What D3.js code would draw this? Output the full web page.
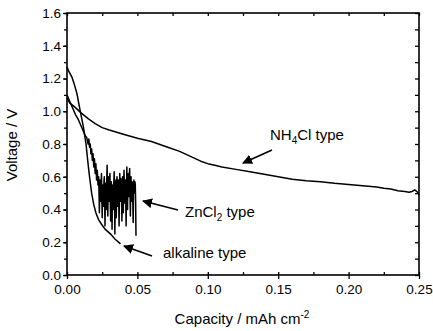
<!DOCTYPE html>
<html><head><meta charset="utf-8">
<script src="https://cdn.jsdelivr.net/npm/d3@7"></script>
<style>body{margin:0;background:#fff}svg{display:block}text{font-family:"Liberation Sans",Arial,sans-serif;fill:#000}</style>
</head><body><svg id="c" width="433" height="331"></svg>
<script>
const xTicks = [0, 0.05, 0.10, 0.15, 0.20, 0.25];
const yTicks = [0, 0.2, 0.4, 0.6, 0.8, 1.0, 1.2, 1.4, 1.6];
const nh4clCap = [0,0.002,0.005,0.010,0.015,0.020,0.025,0.030,0.040,0.050,0.060,0.070,0.080,0.085,0.090,0.095,0.100,0.105,0.110,0.120,0.130,0.140,0.150,0.160,0.170,0.180,0.190,0.200,0.210,0.220,0.225,0.230,0.235,0.240,0.243,0.245,0.247,0.249,0.250];
const nh4clV   = [1.08,1.05,1.03,0.99,0.955,0.925,0.90,0.885,0.86,0.835,0.815,0.785,0.755,0.735,0.715,0.695,0.68,0.67,0.66,0.645,0.63,0.615,0.60,0.585,0.575,0.57,0.56,0.553,0.545,0.538,0.53,0.525,0.515,0.51,0.505,0.51,0.52,0.505,0.49];
const alkCap = [0,0.0015,0.0034,0.005,0.007,0.0092,0.0116,0.0135,0.0147,0.016,0.0175,0.019,0.0205,0.0223,0.0245,0.027,0.029,0.031,0.034,0.038];
const alkV   = [1.27,1.24,1.21,1.17,1.11,1.01,0.906,0.80,0.70,0.60,0.50,0.43,0.38,0.34,0.31,0.28,0.265,0.25,0.22,0.19];
const zncCap = [0,0.002,0.004,0.006,0.008,0.010,0.012,0.013,0.014,0.015,0.0155,0.016,0.0165,0.017,0.0175,0.018,0.0185,0.019,0.0195,0.020,0.0205,0.021,0.0215,0.022,
  0.02250,0.02275,0.02300,0.02325,0.02350,0.02375,0.02400,0.02425,0.02450,0.02475,0.02500,0.02525,0.02550,0.02575,0.02600,0.02625,0.02650,0.02675,0.02700,0.02725,
  0.02750,0.02775,0.02800,0.02825,0.02850,0.02875,0.02900,0.02925,0.02950,0.02975,0.03000,0.03025,0.03050,0.03075,0.03100,0.03125,0.03150,0.03175,0.03200,0.03225,
  0.03250,0.03275,0.03300,0.03325,0.03350,0.03375,0.03400,0.03425,0.03450,0.03475,0.03500,0.03525,0.03550,0.03575,0.03600,0.03625,0.03650,0.03675,0.03700,0.03725,
  0.03750,0.03775,0.03800,0.03825,0.03850,0.03875,0.03900,0.03925,0.03950,0.03975,0.04000,0.04025,0.04050,0.04075,0.04100,0.04125,0.04150,0.04175,0.04200,0.04225,
  0.04250,0.04275,0.04300,0.04325,0.04350,0.04375,0.04400,0.04425,0.04450,0.04475,0.04500,0.04525,0.04550,0.04575,0.04600,0.04625,0.04650,0.04675,0.04700,0.04725,
  0.04750,0.04775,0.04800,0.04825,0.04850,0.04875,0.04900];
const zncV   = [1.10,1.06,1.02,0.98,0.95,0.91,0.87,0.85,0.84,0.80,0.83,0.78,0.80,0.74,0.77,0.70,0.74,0.66,0.71,0.62,0.68,0.58,0.64,0.55,
  0.60,0.50,0.38,0.52,0.58,0.48,0.45,0.56,0.62,0.47,0.35,0.50,0.55,0.44,0.42,0.57,0.60,0.46,0.30,0.48,
  0.56,0.50,0.40,0.58,0.67,0.52,0.36,0.54,0.60,0.49,0.45,0.59,0.62,0.46,0.33,0.51,0.57,0.47,0.28,0.50,
  0.55,0.45,0.40,0.56,0.63,0.48,0.25,0.46,0.52,0.58,0.35,0.53,0.60,0.47,0.42,0.55,0.58,0.44,0.30,0.52,
  0.62,0.50,0.45,0.59,0.57,0.46,0.33,0.50,0.60,0.49,0.38,0.56,0.64,0.50,0.44,0.57,0.58,0.45,0.30,0.52,
  0.66,0.49,0.40,0.58,0.62,0.51,0.48,0.60,0.65,0.50,0.36,0.53,0.60,0.48,0.45,0.57,0.56,0.44,0.32,0.50,
  0.58,0.53,0.50,0.57,0.55,0.45,0.24];

const svg = d3.select("#c");
const L = 67, R = 419, T = 13, B = 275;
const x = d3.scaleLinear().domain([0, 0.25]).range([L, R]);
const y = d3.scaleLinear().domain([0, 1.6]).range([B, T]);
const g = svg.append("g");

g.append("rect").attr("x", L).attr("y", T).attr("width", R - L).attr("height", B - T)
  .attr("fill", "none").attr("stroke", "#000").attr("stroke-width", 1.6);

const minorX = d3.range(0, 0.2501, 0.025);
const minorY = d3.range(0, 1.601, 0.1);

g.append("g").attr("transform", `translate(${L},0)`)
  .call(d3.axisLeft(y).tickValues(yTicks).tickFormat(d3.format(".1f")).tickSize(4).tickPadding(2));
g.append("g").attr("transform", `translate(${L},0)`)
  .call(d3.axisLeft(y).tickValues(minorY).tickFormat("").tickSize(3));
g.append("g").attr("transform", `translate(0,${B})`)
  .call(d3.axisBottom(x).tickValues(xTicks).tickFormat(d3.format(".2f")).tickSize(4).tickPadding(5));
g.append("g").attr("transform", `translate(0,${B})`)
  .call(d3.axisBottom(x).tickValues(minorX).tickFormat("").tickSize(-3));
g.append("g").attr("transform", `translate(0,${T})`)
  .call(d3.axisTop(x).tickValues(minorX).tickFormat("").tickSize(-3));
g.append("g").attr("transform", `translate(${R},0)`)
  .call(d3.axisRight(y).tickValues(minorY).tickFormat("").tickSize(-4));

svg.selectAll(".domain").remove();
svg.selectAll(".tick line").attr("stroke", "#000").attr("stroke-width", 1.3);
svg.selectAll(".tick text").style("font-size", "13.5px").style("font-family", "Liberation Sans, Arial, sans-serif");

const line = d3.line().x(d => x(d[0])).y(d => y(d[1]));
function draw(cap, v, w) {
  g.append("path").datum(cap.map((c, i) => [c, v[i]])).attr("d", line)
    .attr("fill", "none").attr("stroke", "#000").attr("stroke-width", w).attr("stroke-linejoin", "round");
}
draw(nh4clCap, nh4clV, 1.5);
draw(alkCap, alkV, 1.5);
draw(zncCap, zncV, 1.5);

const defs = svg.append("defs");
defs.append("marker").attr("id", "ah").attr("viewBox", "0 0 10 10").attr("refX", 9).attr("refY", 5)
  .attr("markerWidth", 10).attr("markerHeight", 10).attr("markerUnits", "userSpaceOnUse").attr("orient", "auto")
  .append("path").attr("d", "M0,0 L10,5 L0,10 Z").attr("fill", "#000");
const arrows = [[272,150,243,163],[178,210,143,201],[152,256,124,246]];
arrows.forEach(a => g.append("line").attr("x1", a[0]).attr("y1", a[1]).attr("x2", a[2]).attr("y2", a[3])
  .attr("stroke", "#000").attr("stroke-width", 1.6).attr("marker-end", "url(#ah)"));

const fs = "15px";
const t1 = g.append("text").attr("x", 270).attr("y", 140).style("font-size", fs);
t1.append("tspan").text("NH");
t1.append("tspan").text("4").attr("dy", 4).style("font-size", "10px");
t1.append("tspan").text("Cl type").attr("dy", -4);
const t2 = g.append("text").attr("x", 185).attr("y", 217).style("font-size", fs);
t2.append("tspan").text("ZnCl");
t2.append("tspan").text("2").attr("dy", 4).style("font-size", "10px");
t2.append("tspan").text(" type").attr("dy", -4);
g.append("text").attr("x", 163).attr("y", 258).style("font-size", fs).text("alkaline type");

const xt = g.append("text").attr("x", 242).attr("y", 324).attr("text-anchor", "middle").style("font-size", fs);
xt.append("tspan").text("Capacity / mAh cm");
xt.append("tspan").text("-2").attr("dy", -6).style("font-size", "10px");
g.append("text").attr("transform", "translate(17,145) rotate(-90)").attr("text-anchor", "middle")
  .style("font-size", fs).text("Voltage / V");
</script></body></html>
